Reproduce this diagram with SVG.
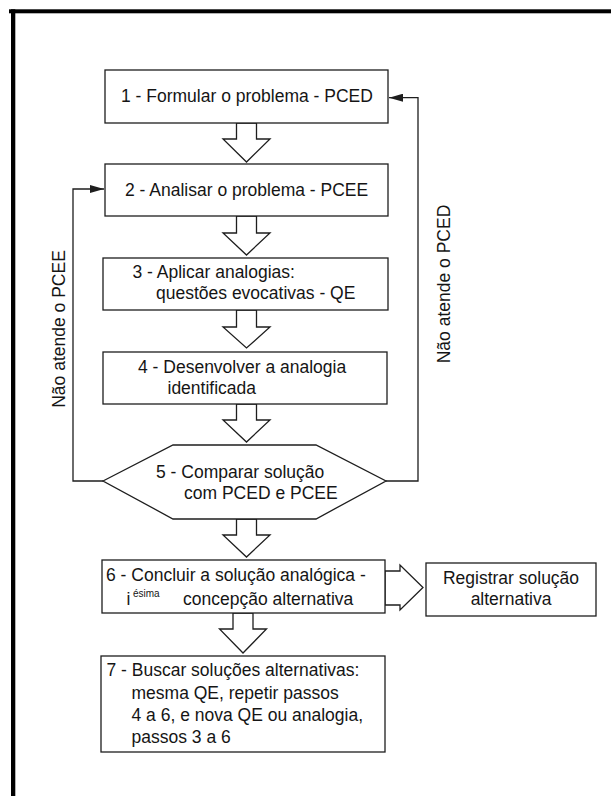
<svg xmlns="http://www.w3.org/2000/svg" width="611" height="796" viewBox="0 0 611 796">
  <style>
    .box { fill: #ffffff; stroke: #1e1e1e; stroke-width: 1.3; }
    .blk { fill: #ffffff; stroke: #1e1e1e; stroke-width: 1.3; stroke-linejoin: miter; }
    .line { fill: none; stroke: #1e1e1e; stroke-width: 1.3; }
    .lbl { font-family: "Liberation Sans", Arial, sans-serif; font-size: 17.5px; fill: #151515; }
    .sup { font-family: "Liberation Sans", Arial, sans-serif; font-size: 10px; fill: #151515; }
  </style>
  <defs>
    <marker id="head" viewBox="0 0 14 8" refX="14" refY="4" markerWidth="14" markerHeight="8" markerUnits="userSpaceOnUse" orient="auto">
      <path d="M0,0 L14,4 L0,8 Z" fill="#1e1e1e"/>
    </marker>
  </defs>

  <rect width="611" height="796" fill="#ffffff"/>

  <!-- page frame (top and left rules) -->
  <g id="frame" fill="#000000">
    <rect x="9" y="9.3" width="602" height="4"/>
    <rect x="11" y="9.3" width="4.3" height="786.7"/>
  </g>

  <!-- feedback connectors and flow arrows -->
  <g id="connectors">
    <polyline class="line" points="103,481 73,481 73,189 104,189" marker-end="url(#head)"/>
    <polyline class="line" points="386,481 418,481 418,97.7 389,97.7" marker-end="url(#head)"/>
    <polygon class="blk" points="236.5,123 256.5,123 256.5,139 270,139 246.5,162 223,139 236.5,139"/>
    <polygon class="blk" points="236.5,216 256.5,216 256.5,233 270,233 246.5,255 223,233 236.5,233"/>
    <polygon class="blk" points="236.5,310 256.5,310 256.5,327 270,327 246.5,348 223,327 236.5,327"/>
    <polygon class="blk" points="236.5,404 256.5,404 256.5,420 270,420 246.5,442 223,420 236.5,420"/>
    <polygon class="blk" points="236.5,519 256.5,519 256.5,535 270,535 246.5,557 223,535 236.5,535"/>
    <polygon class="blk" points="233,613 253,613 253,629 266.5,629 243,653 219.5,629 233,629"/>
    <polygon class="blk" points="385,571 400,571 400,565 423,587.5 400,610 400,605 385,605"/>
    <text class="lbl" transform="translate(65,329) rotate(-90)" text-anchor="middle">Não atende o PCEE</text>
    <text class="lbl" transform="translate(449.5,284) rotate(-90)" text-anchor="middle">Não atende o PCED</text>
  </g>

  <g id="step1">
    <rect class="box" x="105" y="70" width="283" height="53"/>
    <text class="lbl" x="121" y="102">1 - Formular o problema - PCED</text>
  </g>

  <g id="step2">
    <rect class="box" x="105" y="164" width="283" height="52"/>
    <text class="lbl" x="125" y="195.5">2 - Analisar o problema - PCEE</text>
  </g>

  <g id="step3">
    <rect class="box" x="103" y="258" width="285" height="52"/>
    <text class="lbl" x="132.5" y="278">3 - Aplicar analogias:</text>
    <text class="lbl" x="156" y="299">questões evocativas - QE</text>
  </g>

  <g id="step4">
    <rect class="box" x="103" y="352" width="284" height="52"/>
    <text class="lbl" x="138" y="373">4 - Desenvolver a analogia</text>
    <text class="lbl" x="167.5" y="393.5">identificada</text>
  </g>

  <g id="step5">
    <polygon class="box" points="103,481 173,445 316,445 386,481 316,519 173,519"/>
    <text class="lbl" x="156" y="478">5 - Comparar solução</text>
    <text class="lbl" x="184" y="498.5">com PCED e PCEE</text>
  </g>

  <g id="step6">
    <rect class="box" x="102" y="560" width="283" height="53"/>
    <text class="lbl" x="106" y="581">6 - Concluir a solução analógica -</text>
    <text class="lbl" x="126.5" y="605">i</text>
    <text class="sup" x="133" y="597">ésima</text>
    <text class="lbl" x="183" y="605">concepção alternativa</text>
  </g>

  <g id="record">
    <rect class="box" x="426" y="563" width="170" height="53"/>
    <text class="lbl" x="511" y="584" text-anchor="middle">Registrar solução</text>
    <text class="lbl" x="511" y="605" text-anchor="middle">alternativa</text>
  </g>

  <g id="step7">
    <rect class="box" x="101" y="656" width="284" height="96"/>
    <text class="lbl" x="106.5" y="676">7 - Buscar soluções alternativas:</text>
    <text class="lbl" x="131.5" y="698.5">mesma QE, repetir passos</text>
    <text class="lbl" x="131.5" y="721">4 a 6, e nova QE ou analogia,</text>
    <text class="lbl" x="131.5" y="743">passos 3 a 6</text>
  </g>
</svg>
